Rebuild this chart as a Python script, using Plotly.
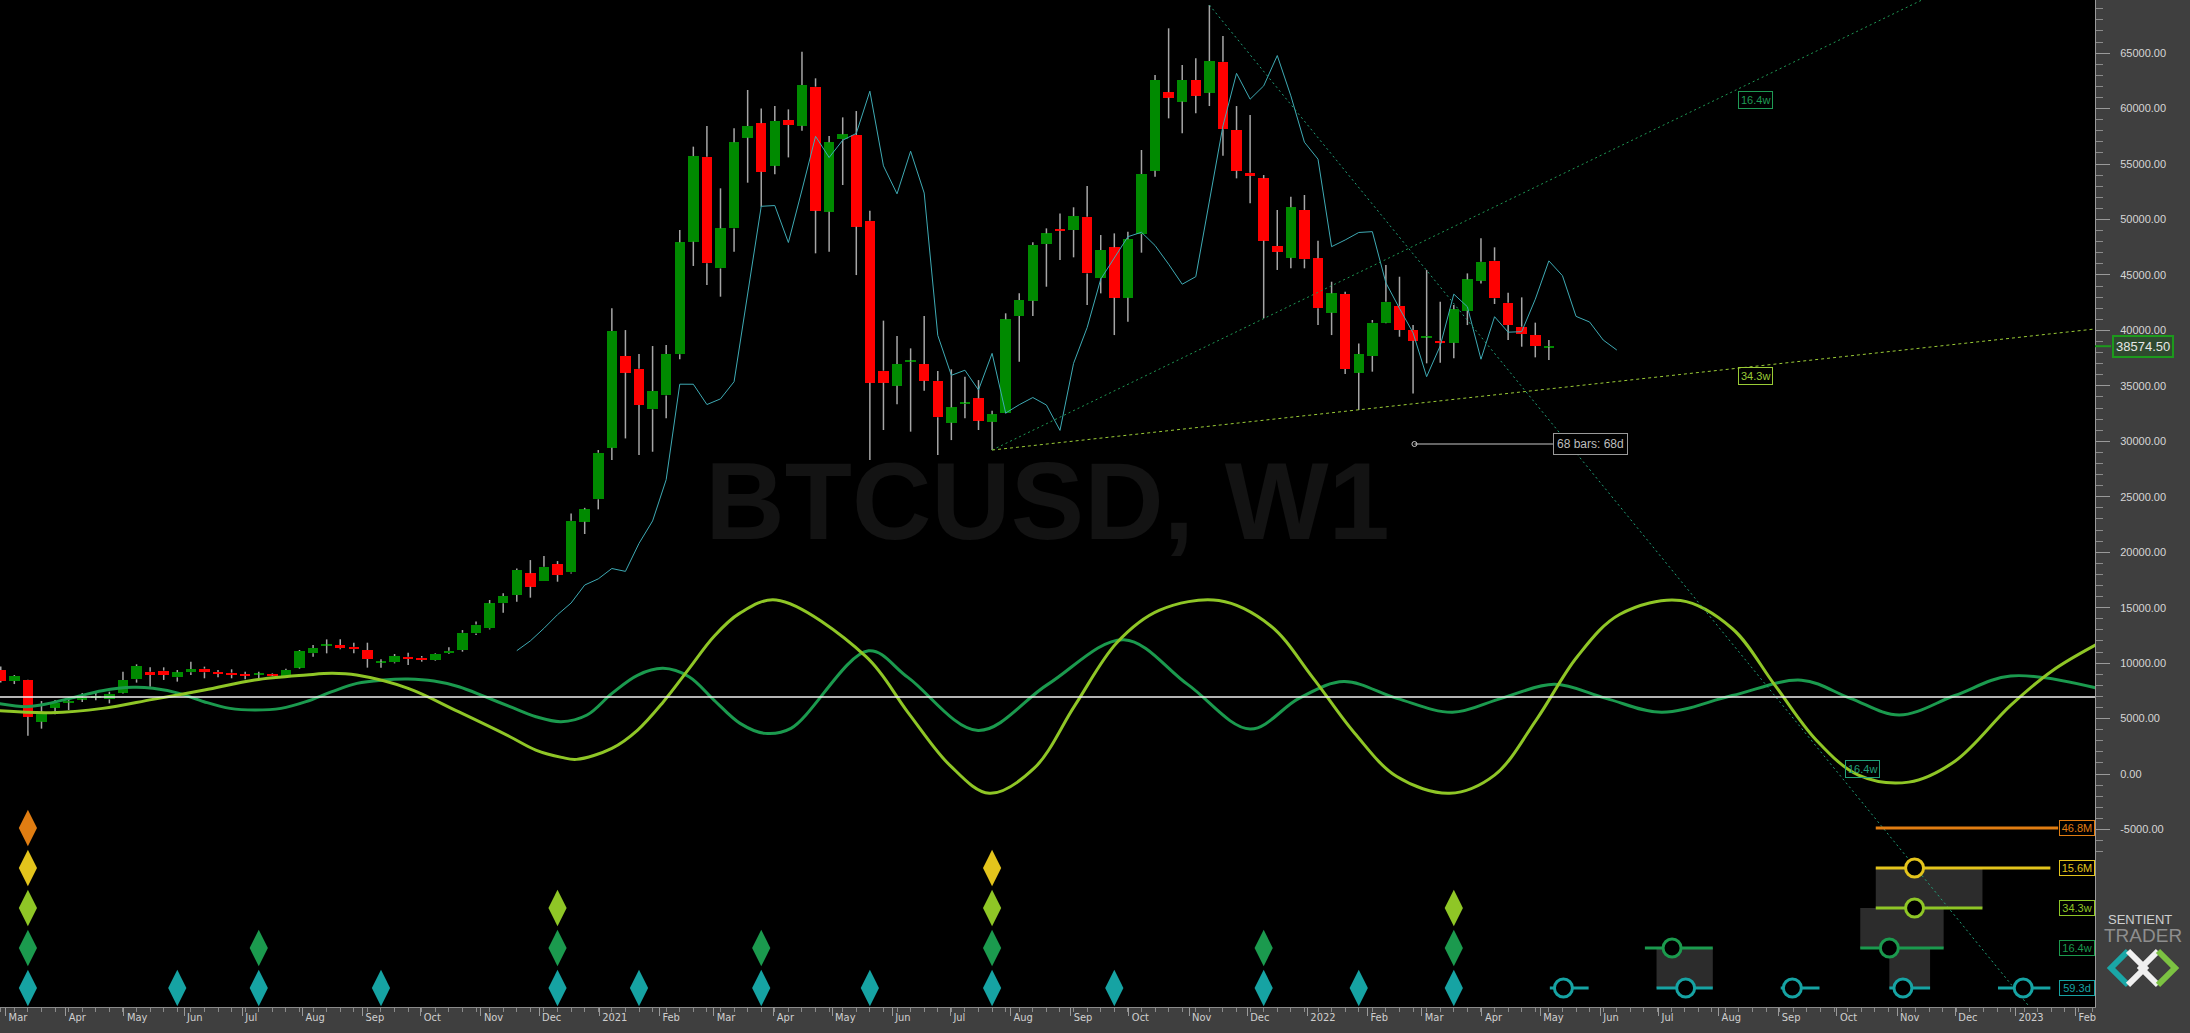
import pandas as pd
import plotly.graph_objects as go

# ---------------- data ----------------
first_week = pd.Timestamp("2020-02-23")   # Sunday of first weekly bar
opens = [9380, 8390, 8480, 4720, 5980, 6450, 6750, 6900, 6730, 7330,
         8540, 9230, 9320, 8720, 9170, 9500, 9200, 9140, 9020, 9000,
         9020, 8780, 9590, 10880, 11600, 11630, 11480, 11180, 10050, 10070,
         10580, 10490, 10280, 10880, 11180, 12680, 13130, 15390, 16140, 18090,
         17400, 18930, 18180, 22750, 24770, 29420, 37690, 36550, 32880, 34140,
         37840, 48000, 55660, 45590, 49200, 57380, 58670, 54850, 58970, 58460,
         61980, 50710, 57230, 57620, 49890, 36370, 35010, 37200, 36970, 35460,
         31680, 33380, 33870, 31770, 32580, 41300, 42680, 47790, 49110, 49050,
         50250, 44690, 47490, 42950, 48690, 54400, 61470, 60630, 62580, 61440,
         64230, 58070, 54220, 53710, 47610, 46560, 50860, 46500, 41600, 43280,
         36190, 37690, 40700, 42200, 40030, 39400, 39070, 38890, 41780, 44480,
         46290, 42500, 40330, 39580, 38520]
highs = [9700, 8930, 8500, 6580, 6670, 6910, 7300, 7300, 7420, 9230,
         9890, 9620, 9620, 9380, 10130, 9680, 9380, 9440, 9230, 9230,
         9080, 9500, 11180, 11630, 12140, 12140, 11840, 11840, 10340, 10820,
         10940, 10640, 10880, 11420, 12980, 13740, 15690, 16290, 18540, 19290,
         19660, 19200, 23500, 24000, 29210, 41990, 40030, 37870, 38590, 38680,
         49050, 56570, 58430, 52810, 58220, 61680, 60020, 60230, 59930, 65130,
         62730, 57530, 59210, 59780, 50790, 40880, 39490, 38380, 41300, 36340,
         36490, 35830, 35520, 32760, 41540, 43340, 47940, 49200, 50550, 51100,
         53020, 48600, 48750, 48900, 56270, 63030, 67240, 63930, 64530, 69340,
         66550, 60230, 59420, 54010, 50860, 52060, 52210, 48090, 44390, 43490,
         38830, 40940, 45900, 44840, 40480, 45440, 42590, 42290, 45140, 48300,
         47490, 43400, 42980, 40700, 39130]
lows = [8250, 8110, 3460, 4090, 5380, 5770, 6500, 6650, 6370, 7270,
        8240, 7870, 8480, 8330, 8930, 8630, 8720, 8630, 8540, 8540,
        8840, 8700, 9500, 10580, 10880, 11240, 10880, 9590, 9590, 9980,
        9830, 10130, 10220, 10820, 11030, 12530, 13040, 14550, 15540, 15900,
        17400, 17340, 18090, 21640, 23860, 28310, 30260, 28760, 29060, 32070,
        37390, 45810, 44090, 43040, 47100, 53320, 51160, 54070, 55600, 58010,
        46950, 47100, 53110, 44990, 28310, 31020, 33330, 30870, 34560, 28760,
        30110, 32070, 31020, 29210, 32520, 37180, 41300, 43940, 46350, 46590,
        42290, 43340, 39580, 40790, 47010, 53860, 59120, 57770, 59570, 60230,
        55750, 53710, 51460, 41090, 45450, 45600, 45600, 40480, 39580, 36070,
        32820, 36280, 40640, 39430, 34320, 37030, 37090, 37480, 40480, 44240,
        42380, 39130, 38530, 37570, 37330]
closes = [8390, 8840, 5170, 5410, 6430, 6550, 6900, 7050, 7210, 8480,
          9740, 8930, 8930, 9170, 9470, 9170, 9020, 8930, 8870, 9030,
          8900, 9380, 11090, 11360, 11660, 11330, 11240, 10370, 10100, 10640,
          10370, 10280, 10820, 11120, 12740, 13470, 15390, 16050, 18390, 16890,
          18690, 17940, 22840, 23860, 28970, 39940, 36190, 33270, 34530, 37870,
          47940, 55720, 46050, 49200, 56960, 58430, 54310, 58880, 58520, 62130,
          50800, 56960, 57680, 49350, 35280, 35280, 36970, 37250, 35460, 32160,
          33060, 33460, 31860, 32430, 41000, 42740, 47700, 48750, 48990, 50310,
          45140, 47250, 42950, 48210, 54100, 62580, 60990, 62580, 61170, 64290,
          58130, 54400, 53950, 48090, 47100, 51100, 46410, 41990, 43340, 36520,
          37870, 40700, 42590, 40030, 39070, 39460, 38890, 41900, 44600, 46200,
          42890, 40480, 39670, 38590, 38574.5]
last_price = 38574.50

fld_shift_weeks = 5      # median price displaced forward
fld_first_bar = 33

# composite cycle lines: (week offset from first bar, value)
ygreen_weeks = [-0.2, 3.7, 7.5, 11.2, 15.0, 18.7, 22.5, 24.4, 26.2, 30.0, 33.7, 37.5, 39.4, 41.3, 42.4,
                45.0, 46.9, 48.8, 50.7, 52.5, 54.4, 57.1, 63.7, 66.8, 69.9, 72.8, 76.1, 79.1, 82.2,
                85.3, 89.7, 93.5, 96.6, 99.7, 102.8, 106.7, 110.0, 113.1, 116.1, 119.2, 123.7, 127.5,
                130.6, 133.7, 136.8, 140.5, 143.9, 148.0, 151.1, 154.5]
ygreen_vals = [5707, 5527, 5918, 6730, 7571, 8473, 8924, 9074, 8924, 7722, 5617, 3362, 2161, 1500, 1318,
               2311, 3964, 6520, 9525, 12381, 14485, 15687, 10601, 5564, 778, -1741, 525, 6193, 11860,
               14757, 15639, 13372, 8713, 3675, -229, -1741, -104, 4934, 10601, 14379, 15639, 13120,
               8082, 3045, -104, -733, 1156, 6193, 9342, 11800]
green_weeks = [-0.2, 1.86, 2.96, 5.6, 7.46, 9.74, 11.21, 13.13, 14.97, 16.88, 18.72, 20.64, 22.48, 24.39,
               26.23, 28.15, 29.99, 31.9, 33.74, 35.66, 37.5, 39.41, 41.26, 43.17, 45.01, 46.92, 48.77,
               50.68, 52.52, 54.44, 56.28, 58.19, 63.9, 66.8, 71.97, 77.1, 82.7, 87.4, 92.0, 95.6, 98.9,
               102.8, 106.9, 110.5, 114.4, 118.2, 122.3, 127.5, 132.6, 136.2, 139.8, 143.9, 148.0, 154.5]
green_vals = [6369, 6069, 6219, 6971, 7512, 7812, 7722, 7271, 6520, 5918, 5768, 5918, 6520, 7421,
              8172, 8473, 8563, 8383, 7872, 6971, 6069, 5167, 4716, 5317, 7271, 8924, 9525,
              8774, 6670, 4566, 3664, 4114, 11105, 8712, 3927, 8082, 12112, 8082, 4053, 6823, 8334,
              6823, 5563, 6823, 8082, 6823, 5563, 7075, 8460, 6823, 5311, 7075, 8838, 7705]
baseline_value = 6950

# trend lines (week offset, value)
fast_up_pts = [(73, 29212), (129.3, 62579)]
slow_up_pts = [(73, 29212), (154.2, 40126)]
fast_down_pts = [(89, 69342), (149.4, -21010)]
fast_label_up = (129.2, 60775)
slow_label = (129.2, 35888)
fast_label_down = (137.1, 451)

# "68 bars" measurement
measure_weeks = [104.1, 114.3]
measure_value = 29757

# cycle trough diamonds (bar indices), rows from bottom
teal_bars = [2, 13, 19, 28, 41, 47, 56, 64, 73, 82, 93, 100, 107]
green_bars = [2, 19, 41, 56, 73, 93, 107]
ygreen_bars = [2, 41, 73, 107]
yellow_bars = [2, 73]
orange_bars = [2]

# projected troughs: (row, start, centre, end)
projections = [
    ("teal", "2022-05-06", "2022-05-13", "2022-05-26"),
    ("teal", "2022-06-30", "2022-07-15", "2022-07-29"),
    ("teal", "2022-09-02", "2022-09-08", "2022-09-22"),
    ("teal", "2022-10-28", "2022-11-04", "2022-11-18"),
    ("teal", "2022-12-23", "2023-01-05", "2023-01-19"),
    ("green", "2022-06-24", "2022-07-08", "2022-07-29"),
    ("green", "2022-10-13", "2022-10-28", "2022-11-25"),
    ("ygreen", "2022-10-21", "2022-11-10", "2022-12-15"),
    ("yellow", "2022-10-21", "2022-11-10", "2023-01-19"),
    ("orange", "2022-10-21", None, "2023-01-23"),
]
proj_boxes = [  # (row_low, row_high, start, end)
    ("teal", "green", "2022-06-30", "2022-07-29"),
    ("teal", "green", "2022-10-28", "2022-11-18"),
    ("green", "ygreen", "2022-10-13", "2022-11-25"),
    ("ygreen", "yellow", "2022-10-21", "2022-12-15"),
]
cycle_labels = {"orange": "46.8M", "yellow": "15.6M", "ygreen": "34.3w", "green": "16.4w", "teal": "59.3d"}

month_ticks = pd.date_range("2020-03-01", "2023-02-01", freq="MS")
month_text = [str(d.year) if d.month == 1 else d.strftime("%b") for d in month_ticks]

# ---------------- styles ----------------
ROW = {"teal": 1, "green": 2, "ygreen": 3, "yellow": 4, "orange": 5}
COL = {"teal": "#16a3a3", "green": "#1b9a4e", "ygreen": "#8fc626", "yellow": "#e3c41c", "orange": "#e07d12"}
W, H = 2190, 1033
ML, MR, MT, MB = 0, 95, 0, 26
PW, PH = W - ML - MR, H - MT - MB


def wt(w):
    return first_week + pd.Timedelta(days=7 * w + 4.5)


def px_x(x):
    return x / PW


def px_y(y):
    return 1 - y / PH


n = len(opens)
bx = [wt(i) for i in range(n)]

fig = go.Figure()

# wicks (split so they do not cross bodies)
wx, wy = [], []
for i in range(n):
    top, bot = max(opens[i], closes[i]), min(opens[i], closes[i])
    wx += [bx[i], bx[i], None, bx[i], bx[i], None]
    wy += [highs[i], top, None, bot, lows[i], None]
fig.add_trace(go.Scatter(x=wx, y=wy, mode="lines", line=dict(color="#a6a6a6", width=1.5),
                         hoverinfo="skip", showlegend=False))

body_ms = 5.4 * 86400000
for up, colr in ((True, "#008a00"), (False, "#ff0000")):
    idx = [i for i in range(n) if (closes[i] >= opens[i]) == up]
    hgt = [max(abs(closes[i] - opens[i]), 90) for i in idx]
    base = [(opens[i] + closes[i]) / 2 - h / 2 for i, h in zip(idx, hgt)]
    fig.add_trace(go.Bar(x=[bx[i] for i in idx], y=hgt, base=base, width=body_ms,
                         marker=dict(color=colr, line=dict(width=0)), showlegend=False, hoverinfo="skip"))

# FLD line
fld_x = [wt(i + fld_shift_weeks) for i in range(fld_first_bar, n)]
fld_y = [(highs[i] + lows[i]) / 2 for i in range(fld_first_bar, n)]
fig.add_trace(go.Scatter(x=fld_x, y=fld_y, mode="lines", line=dict(color="#3eaab4", width=1),
                         showlegend=False, hoverinfo="skip"))

# baseline
fig.add_shape(type="line", xref="paper", x0=0, x1=1, yref="y", y0=baseline_value, y1=baseline_value,
              line=dict(color="#f2f2f2", width=1.5))

# cycle composites
fig.add_trace(go.Scatter(x=[wt(w) for w in green_weeks], y=green_vals, mode="lines",
                         line=dict(color=COL["green"], width=3, shape="spline", smoothing=1.0),
                         showlegend=False, hoverinfo="skip"))
fig.add_trace(go.Scatter(x=[wt(w) for w in ygreen_weeks], y=ygreen_vals, mode="lines",
                         line=dict(color=COL["ygreen"], width=3, shape="spline", smoothing=1.0),
                         showlegend=False, hoverinfo="skip"))


# trend lines
def extend(pts, w_end):
    (w0, v0), (w1, v1) = pts
    slope = (v1 - v0) / (w1 - w0)
    return [wt(w0), wt(w_end)], [v0, v0 + slope * (w_end - w0)]


for pts, w_end, colr, dash in ((fast_up_pts, 150, "#1f9a55", "2px,3px"),
                               (slow_up_pts, 162, "#9acb36", "3px,3px"),
                               (fast_down_pts, 156, "#22a07a", "2px,3px")):
    xs, ys = extend(pts, w_end)
    fig.add_trace(go.Scatter(x=xs, y=ys, mode="lines", line=dict(color=colr, width=1, dash=dash),
                             showlegend=False, hoverinfo="skip"))

for (w, v), txt, colr in ((fast_label_up, "16.4w", "#1f9a55"), (slow_label, "34.3w", "#9acb36"),
                          (fast_label_down, "16.4w", "#22a07a")):
    fig.add_annotation(x=wt(w), y=v, xref="x", yref="y", text=txt, showarrow=False,
                       xanchor="center", yanchor="middle",
                       font=dict(family="Liberation Sans", size=11, color=colr),
                       bordercolor=colr, borderwidth=1, borderpad=2, bgcolor="rgba(0,0,0,0)")

# measurement line
fig.add_trace(go.Scatter(x=[wt(w) for w in measure_weeks], y=[measure_value] * 2, mode="lines",
                         line=dict(color="#c8c8c8", width=1), showlegend=False, hoverinfo="skip"))
fig.add_trace(go.Scatter(x=[wt(measure_weeks[0])], y=[measure_value], mode="markers",
                         marker=dict(symbol="circle-open", size=5, color="#c8c8c8", line=dict(width=1)),
                         showlegend=False, hoverinfo="skip"))
fig.add_annotation(x=wt(measure_weeks[1]), y=measure_value, xref="x", yref="y", xanchor="left",
                   yanchor="middle", text="68 bars: 68d", showarrow=False,
                   font=dict(family="Liberation Sans", size=12, color="#bdbdbd"),
                   bordercolor="#9a9a9a", borderwidth=1, borderpad=3, bgcolor="#000000")

# diamonds
for key, bars in (("teal", teal_bars), ("green", green_bars), ("ygreen", ygreen_bars),
                  ("yellow", yellow_bars), ("orange", orange_bars)):
    fig.add_trace(go.Scatter(x=[bx[i] for i in bars], y=[ROW[key]] * len(bars), yaxis="y2",
                             mode="markers", marker=dict(symbol="diamond-tall", size=26, color=COL[key],
                                                         line=dict(width=0)),
                             showlegend=False, hoverinfo="skip"))

# projection boxes
for lo, hi, s, e in proj_boxes:
    fig.add_shape(type="rect", xref="x", yref="y2", x0=s, x1=e, y0=ROW[lo], y1=ROW[hi],
                  fillcolor="#2c2c2c", line=dict(width=0), layer="below")

for key, s, c, e in projections:
    fig.add_trace(go.Scatter(x=[s, e], y=[ROW[key]] * 2, yaxis="y2", mode="lines",
                             line=dict(color=COL[key], width=3), showlegend=False, hoverinfo="skip"))
    if c:
        fig.add_trace(go.Scatter(x=[c], y=[ROW[key]], yaxis="y2", mode="markers",
                                 marker=dict(symbol="circle", size=18, color="#000000",
                                             line=dict(color=COL[key], width=3)),
                                 showlegend=False, hoverinfo="skip"))

for key, txt in cycle_labels.items():
    fig.add_annotation(x=px_x(2077), xref="paper", y=ROW[key], yref="y2", text=txt, showarrow=False,
                       xanchor="center", yanchor="middle",
                       font=dict(family="Liberation Sans", size=11, color=COL[key]),
                       bordercolor=COL[key], borderwidth=1, borderpad=1, bgcolor="#000000",
                       width=32, height=12)

# watermark (below everything)
fig.add_shape(type="rect", xref="paper", yref="paper", x0=px_x(700), x1=px_x(1395),
              y0=px_y(535), y1=px_y(446), line=dict(width=0), fillcolor="rgba(0,0,0,0)", layer="below",
              label=dict(text="BTCUSD, W1", textposition="middle center",
                         font=dict(family="Liberation Sans", size=110, color="#131313", weight="bold")))

# price tag on axis
fig.add_shape(type="line", xref="paper", yref="y", x0=1.0, x1=px_x(2111), y0=last_price, y1=last_price,
              line=dict(color="#1c9a1c", width=2))
fig.add_annotation(x=px_x(2143), xref="paper", y=last_price, yref="y", text=f"{last_price:.2f}",
                   showarrow=False, xanchor="center", yanchor="middle",
                   font=dict(family="Liberation Sans", size=13, color="#e6e6e6"),
                   bordercolor="#1c9a1c", borderwidth=2, borderpad=2, bgcolor="#2f4a2f")

# logo
fig.add_annotation(x=px_x(2140), y=px_y(919), xref="paper", yref="paper", text="SENTIENT", showarrow=False,
                   xanchor="center", yanchor="middle",
                   font=dict(family="Liberation Sans", size=13, color="#cfcfcf"))
fig.add_annotation(x=px_x(2143), y=px_y(935), xref="paper", yref="paper", text="TRADER", showarrow=False,
                   xanchor="center", yanchor="middle",
                   font=dict(family="Liberation Sans", size=19, color="#8e8e8e"))
logo_parts = [
    ([(2128, 951), (2111, 968), (2128, 985)], "#1aa7a7"),
    ([(2128, 951), (2145, 968), (2128, 985)], "#f0f0f0"),
    ([(2158, 951), (2141, 968), (2158, 985)], "#f0f0f0"),
    ([(2158, 951), (2175, 968), (2158, 985)], "#7cc242"),
]
for pts, colr in logo_parts:
    path = "M " + " L ".join(f"{px_x(x):.5f},{px_y(y):.5f}" for x, y in pts)
    fig.add_shape(type="path", xref="paper", yref="paper", path=path, line=dict(color=colr, width=6))

x_start = pd.Timestamp("2020-03-01") - pd.Timedelta(days=5.6 / 1.94)
x_end = pd.Timestamp("2020-03-01") + pd.Timedelta(days=(PW - 5.6) / 1.94)

fig.update_layout(
    width=W, height=H, margin=dict(l=ML, r=MR, t=MT, b=MB),
    paper_bgcolor="#3f3f3f", plot_bgcolor="#000000", barmode="overlay", bargap=0,
    showlegend=False, hovermode=False,
    xaxis=dict(type="date", range=[x_start, x_end], showgrid=False, zeroline=False,
               tickvals=list(month_ticks), ticktext=month_text, ticks="outside", ticklen=8,
               tickcolor="#9a9a9a", ticklabelposition="outside right", ticklabelshift=2,
               tickfont=dict(family="Liberation Sans Narrow, DejaVu Sans Condensed, Liberation Sans",
                             size=11, color="#cfcfcf"),
               showline=True, linecolor="#8a8a8a", linewidth=1,
               minor=dict(ticks="outside", ticklen=4, tickcolor="#8a8a8a", dtick=7 * 86400000,
                          tick0="2020-02-27 12:00", showgrid=False)),
    yaxis=dict(side="right", range=[-21010, 69793], showgrid=False, zeroline=False,
               tickvals=list(range(-5000, 65001, 5000)),
               ticktext=[f"{v:.2f}" for v in range(-5000, 65001, 5000)],
               ticks="outside", ticklen=14, tickcolor="#9a9a9a", ticklabelstandoff=8,
               tickfont=dict(family="Liberation Sans", size=11, color="#d6d6d6"),
               showline=True, linecolor="#9a9a9a", linewidth=1,
               minor=dict(ticks="outside", ticklen=7, tickcolor="#8a8a8a",
                          tickvals=list(range(-7000, 70000, 1000)), showgrid=False)),
    yaxis2=dict(overlaying="y", range=[0.525, 0.525 + PH / 40.0], visible=False, fixedrange=True),
)

fig.write_html("out.html", config={"displayModeBar": False},
               post_script="document.body.style.margin='0';document.body.style.overflow='hidden';")
